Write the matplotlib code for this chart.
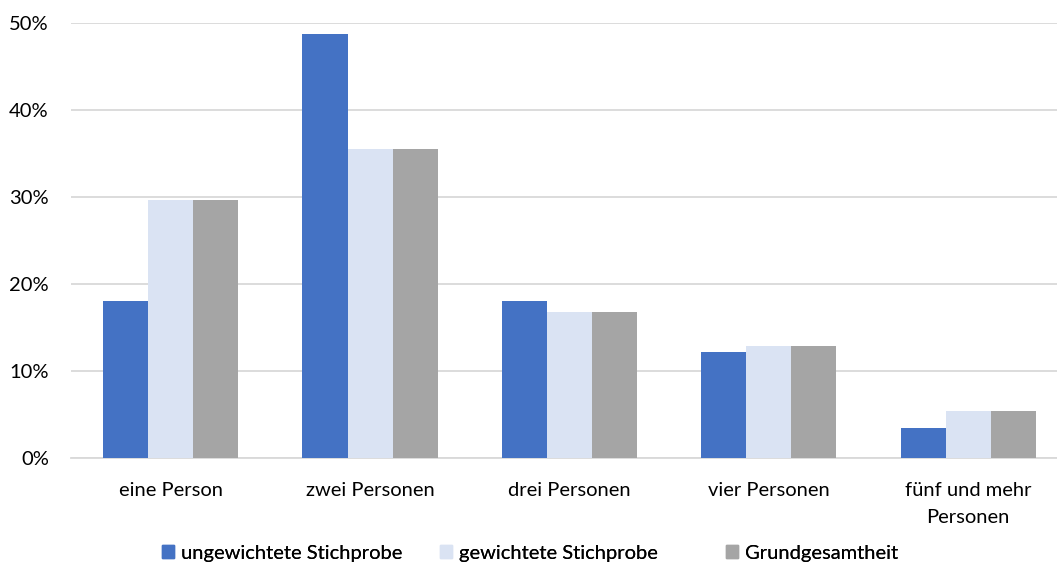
import numpy as np
import matplotlib.pyplot as plt
from matplotlib.patches import Patch
from matplotlib.ticker import PercentFormatter

categories = ["eine Person", "zwei Personen", "drei Personen", "vier Personen", "fünf und mehr\nPersonen"]
series_names = ["ungewichtete Stichprobe", "gewichtete Stichprobe", "Grundgesamtheit"]
ungewichtet = [18.0, 48.7, 18.0, 12.2, 3.4]
gewichtet = [29.7, 35.5, 16.8, 12.9, 5.4]
grundgesamtheit = [29.7, 35.5, 16.8, 12.9, 5.4]
colors = ["#4472C4", "#DAE3F3", "#A5A5A5"]

plt.rcParams["font.family"] = ["Lato", "DejaVu Sans"]
fs = 14.5

fig = plt.figure(figsize=(10.57, 5.67), dpi=100)
ax = fig.add_axes([71 / 1057, 1 - 458 / 567, (1060 - 71) / 1057, (458 - 23) / 567])

x = np.arange(len(categories))
w = 0.226
for i, (vals, c) in enumerate(zip([ungewichtet, gewichtet, grundgesamtheit], colors)):
    ax.bar(x + (i - 1) * w + 0.01, vals, width=w, color=c, zorder=3)

ax.set_ylim(0, 50)
ax.set_xlim(-0.49, 4.47)
ax.set_yticks(np.arange(0, 51, 10))
ax.yaxis.set_major_formatter(PercentFormatter(decimals=0))
ax.set_xticks(x + 0.01)
ax.set_xticklabels(categories, fontsize=fs, color="#000000", linespacing=1.75)
ax.tick_params(axis="y", labelsize=fs, length=0, pad=16)
ax.tick_params(axis="x", length=0, pad=17)
ax.grid(axis="y", color="#D9D9D9", linewidth=1.3, zorder=0)
for s in ["top", "right", "left"]:
    ax.spines[s].set_visible(False)
ax.spines["bottom"].set_color("#D9D9D9")
ax.spines["bottom"].set_linewidth(1.3)

# legend entries sit in fixed slots, like the original
legend_x = [162, 440, 726]
for name, c, lx in zip(series_names, colors, legend_x):
    leg = fig.legend(handles=[Patch(color=c, label=name)], loc="center left",
                     bbox_to_anchor=(lx / 1057, 1 - 553 / 567), frameon=False, fontsize=fs,
                     handlelength=0.6, handleheight=0.6, handletextpad=0.35, borderpad=0,
                     borderaxespad=0)
    fig.add_artist(leg)

fig.savefig("out.png", dpi=100)
